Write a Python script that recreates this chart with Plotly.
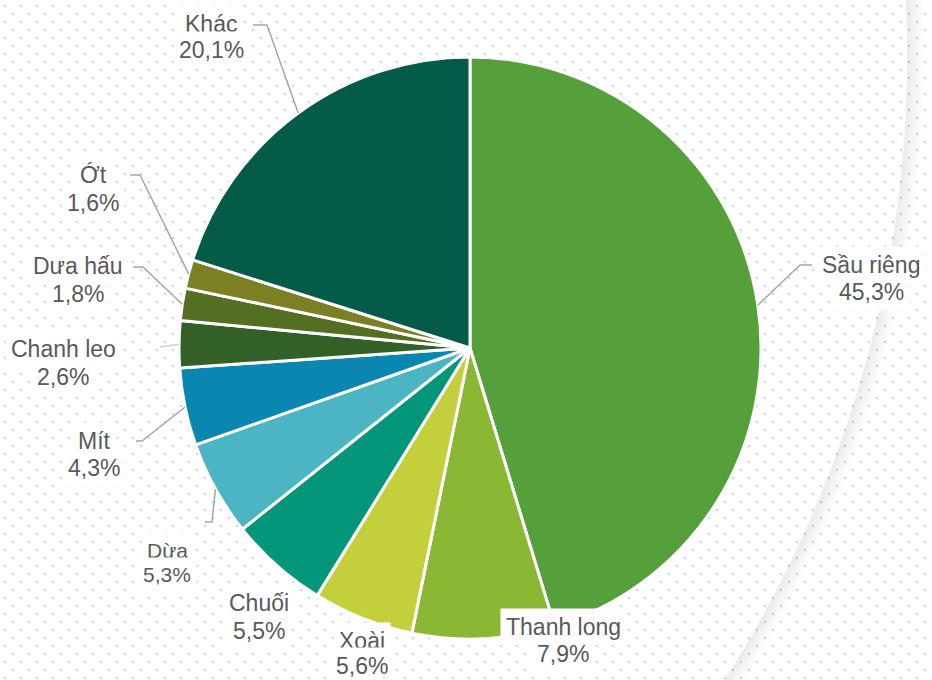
import math
import base64
import plotly.graph_objects as go

# ---------------- data ----------------
labels = ["Sầu riêng", "Thanh long", "Xoài", "Chuối", "Dừa", "Mít",
          "Chanh leo", "Dưa hấu", "Ớt", "Khác"]
shares = [45.3, 7.9, 5.6, 5.5, 5.3, 4.3, 2.6, 1.8, 1.6, 20.1]
colors = ["#55A03B", "#8AB834", "#C3D03C", "#04967A", "#4BB5C4",
          "#0A87B0", "#336026", "#556F22", "#7A8023", "#045C48"]

# ---------------- layout constants (pixels) ----------------
W, H = 932, 680
CX, CY, R = 470, 348, 291

# label text centres: (x, y of name line, y of percent line)
label_pos = {
    "Sầu riêng": (871, 265.5, 292),
    "Thanh long": (563, 627, 654),
    "Xoài": (362, 640.5, 666),
    "Chuối": (259, 603, 630.5),
    "Dừa": (167, 550.5, 574.5),
    "Mít": (94, 440.5, 467.5),
    "Chanh leo": (63, 349, 377),
    "Dưa hấu": (78, 266, 293.5),
    "Ớt": (93, 175, 202.5),
    "Khác": (211, 24, 50.5),
}
label_size = {"Dừa": 21}
# leader lines: points after the slice anchor
leader_pts = {
    "Sầu riêng": [(800, 265), (812, 265)],
    "Khác": [(267, 25), (253, 25)],
    "Ớt": [(140, 175), (130, 175)],
    "Dưa hấu": [(143, 267), (133, 267)],
    "Chanh leo": [(160, 347)],
    "Mít": [(142, 441), (136, 441)],
    "Dừa": [(212, 522), (205, 522)],
}


def fx(x):
    return x / W


def fy(y):
    return 1 - y / H


def fmt(v):
    return f"{v:.1f}".replace(".", ",") + "%"


fig = go.Figure()
fig.add_trace(go.Pie(
    labels=labels, values=shares, sort=False, direction="clockwise",
    rotation=0,
    marker=dict(colors=colors, line=dict(color="white", width=3)),
    textinfo="none", hoverinfo="label+percent", showlegend=False,
    domain=dict(x=[fx(CX - R), fx(CX + R)], y=[fy(CY + R), fy(CY - R)]),
))

# dotted background
svg = ("<svg xmlns='http://www.w3.org/2000/svg' width='932' height='680'>"
       "<defs><pattern id='p' width='16' height='16' patternUnits='userSpaceOnUse'>"
       "<rect x='4' y='5' width='2' height='2' fill='#c2d1f4'/>"
       "<rect x='12' y='13' width='2' height='2' fill='#c2d1f4'/>"
       "</pattern></defs><rect width='932' height='680' fill='url(#p)'/></svg>")
src = "data:image/svg+xml;base64," + base64.b64encode(svg.encode()).decode()

shapes = []
# decorative large arc with soft shadow
ACX, ACY, AR = -254, 55, 1161
for k in range(10):
    rr = AR + 1 + k * 1.6
    a = 0.06 * (1 - k / 10) + 0.004
    shapes.append(dict(type="circle", xref="paper", yref="paper",
                       x0=fx(ACX - rr), x1=fx(ACX + rr),
                       y0=fy(ACY + rr), y1=fy(ACY - rr),
                       line=dict(color=f"rgba(0,0,0,{a:.3f})", width=2),
                       layer="below"))

# leader lines computed from slice mid-angles
total = sum(shares)
cum = 0.0
anchors = {}
for lab, v in zip(labels, shares):
    mid = (cum + v / 2) / total * 2 * math.pi
    anchors[lab] = (CX + R * math.sin(mid), CY - R * math.cos(mid))
    cum += v

for lab, pts in leader_pts.items():
    ax, ay = anchors[lab]
    path = f"M {fx(ax)},{fy(ay)}"
    for (x, y) in pts:
        path += f" L {fx(x)},{fy(y)}"
    col = "#d0d0d0" if lab == "Chanh leo" else "#a6a6a6"
    shapes.append(dict(type="path", xref="paper", yref="paper", path=path,
                       line=dict(color=col, width=1.5)))

annotations = []
for lab, v in zip(labels, shares):
    x, yn, yp = label_pos[lab]
    fs = label_size.get(lab, 23)
    for txt, yy in ((lab, yn), (fmt(v), yp)):
        annotations.append(dict(
            x=fx(x), y=fy(yy), xref="paper", yref="paper",
            xanchor="center", yanchor="middle", showarrow=False,
            text=txt, bgcolor="white", borderpad=5,
            font=dict(family="Liberation Sans, Arial, sans-serif",
                      size=fs, color="#595959")))

fig.update_layout(
    width=W, height=H, margin=dict(l=0, r=0, t=0, b=0),
    paper_bgcolor="white", plot_bgcolor="white",
    images=[dict(source=src, xref="paper", yref="paper", x=0, y=1,
                 sizex=1, sizey=1, xanchor="left", yanchor="top",
                 sizing="stretch", layer="below")],
    shapes=shapes, annotations=annotations,
)

fig.write_html("out.html",
               config={"displayModeBar": False},
               post_script="document.body.style.margin='0';"
                           "document.body.style.overflow='hidden';")
